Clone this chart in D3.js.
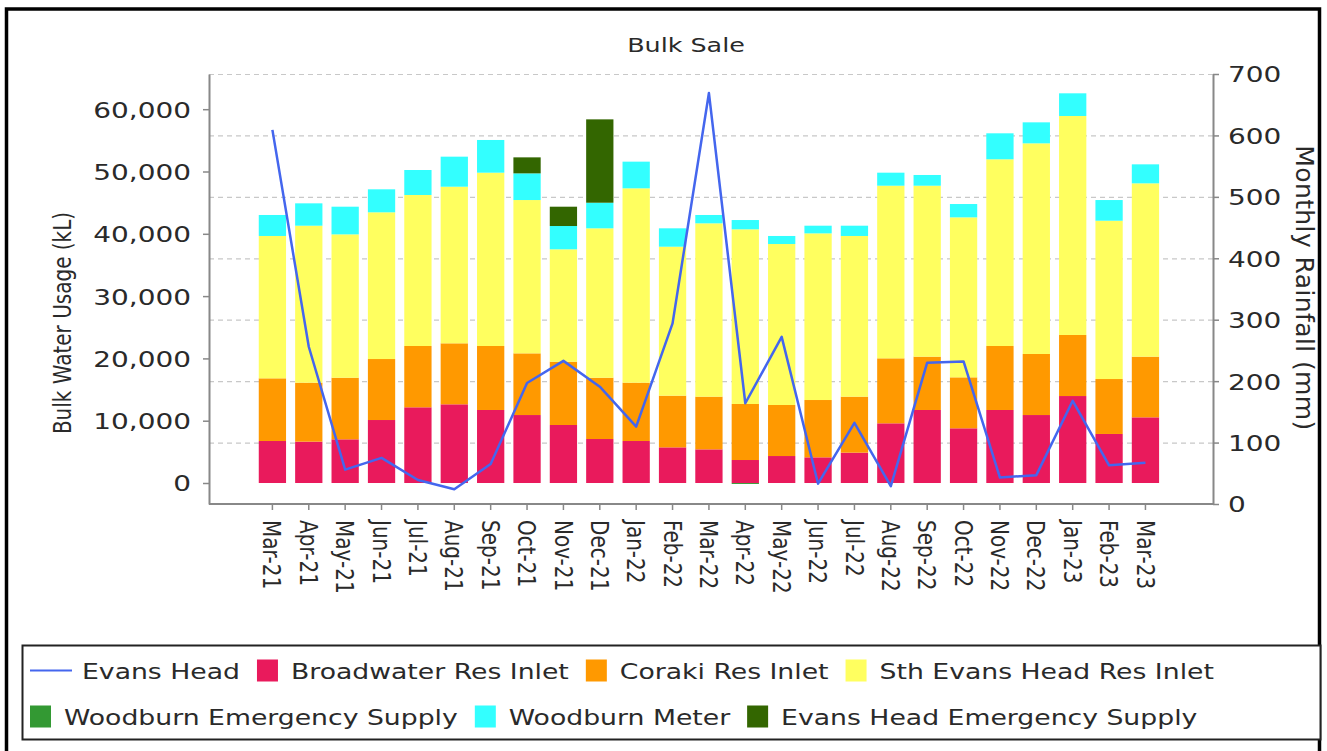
<!DOCTYPE html>
<html>
<head>
<meta charset="utf-8">
<script src="https://cdn.jsdelivr.net/npm/d3@7"></script>
<style>
  body { margin: 0; background: #fff; }
  svg text { font-family: "DejaVu Sans", Verdana, sans-serif; fill: #2a2a2a; }
</style>
</head>
<body>
<svg id="chart" width="1327" height="751"></svg>
<script>
// monthly values
var months = ["Mar-21", "Apr-21", "May-21", "Jun-21", "Jul-21", "Aug-21", "Sep-21", "Oct-21", "Nov-21", "Dec-21",
  "Jan-22", "Feb-22", "Mar-22", "Apr-22", "May-22", "Jun-22", "Jul-22", "Aug-22", "Sep-22", "Oct-22",
  "Nov-22", "Dec-22", "Jan-23", "Feb-23", "Mar-23"];

var broadwater = [6740, 6640, 7010, 10110, 12150, 12630, 11720, 10910, 9310, 7060, 6740, 5720, 5400, 3690, 4330,
  4120, 4870, 9580, 11720, 8780, 11720, 10910, 13960, 7870, 10540];
var coraki = [10060, 9460, 9890, 9790, 9840, 9790, 10270, 9900, 10160, 9840, 9360, 8300, 8460, 8990, 8190,
  9200, 8990, 10430, 8560, 8180, 10270, 9800, 9800, 8820, 9740];
var sthEvans = [22850, 25200, 23010, 23550, 24240, 25140, 27820, 24610, 18040, 23980, 31200, 23910, 27820, 28040, 25840,
  26750, 25790, 27710, 27440, 25680, 29970, 33810, 35150, 25410, 27820];
var woodburnEmergency = [0, 0, 0, 0, 0, 0, 0, 0, 0, 0, 0, 0, 0, -150, 0,
  0, 0, 0, 0, 0, 0, 0, 0, 0, 0];
var woodburnMeter = [3370, 3590, 4440, 3690, 4010, 4820, 5250, 4280, 3740, 4110, 4280, 2950, 1340, 1490, 1290,
  1230, 1650, 2090, 1720, 2140, 4170, 3370, 3640, 3320, 3050];
var evansEmergency = [0, 0, 0, 0, 0, 0, 0, 2570, 3100, 13380, 0, 0, 0, 0, 0,
  0, 0, 0, 0, 0, 0, 0, 0, 0, 0];
var rainfall = [609, 256, 56, 75, 39, 24, 65, 197, 233, 191, 126, 294, 669, 164, 272,
  33, 132, 29, 230, 232, 43, 47, 168, 63, 67];

var usageTicks = [0, 10000, 20000, 30000, 40000, 50000, 60000];
var rainTicks = [0, 100, 200, 300, 400, 500, 600, 700];

var series = [
  {key: "Broadwater Res Inlet", values: broadwater, color: "#e91a5c"},
  {key: "Coraki Res Inlet", values: coraki, color: "#ff9900"},
  {key: "Sth Evans Head Res Inlet", values: sthEvans, color: "#ffff5f"},
  {key: "Woodburn Emergency Supply", values: woodburnEmergency, color: "#339933"},
  {key: "Woodburn Meter", values: woodburnMeter, color: "#33ffff"},
  {key: "Evans Head Emergency Supply", values: evansEmergency, color: "#336600"}
];
var lineColor = "#4466ee";

var svg = d3.select("#chart");
var stretch = 1.27; // the source picture is widened horizontally
var plot = {left: 209, right: 1213, top: 74, bottom: 504};

var x = d3.scaleBand()
  .domain(months)
  .range([plot.left, plot.right])
  .paddingInner(0.25)
  .paddingOuter(1.425)
  .align(0.48);
var yL = d3.scaleLinear().domain([-3370, 65650]).range([plot.bottom, plot.top]);
var yR = d3.scaleLinear().domain([0, 700]).range([plot.bottom, plot.top]);

// outer frame
svg.append("rect")
  .attr("x", 6.5).attr("y", 9)
  .attr("width", 1313).attr("height", 770)
  .attr("fill", "none")
  .attr("stroke", "#000")
  .attr("stroke-width", 3.5);

// title
svg.append("text")
  .attr("transform", "translate(686,52) scale(" + stretch + ",1)")
  .attr("text-anchor", "middle")
  .attr("font-size", 20)
  .text("Bulk Sale");

// grid (follows right axis)
svg.append("g")
  .selectAll("line")
  .data(rainTicks.slice(1))
  .enter().append("line")
  .attr("x1", plot.left).attr("x2", plot.right)
  .attr("y1", function(d) { return yR(d) + 0.5; })
  .attr("y2", function(d) { return yR(d) + 0.5; })
  .attr("stroke", "#c8c8c8")
  .attr("stroke-width", 1.2)
  .attr("stroke-dasharray", "5,4");

// stacked bars
var table = months.map(function(m, i) {
  var row = {month: m};
  series.forEach(function(s) { row[s.key] = s.values[i]; });
  return row;
});
var stacked = d3.stack()
  .keys(series.map(function(s) { return s.key; }))
  .offset(d3.stackOffsetDiverging)(table);

svg.append("g")
  .selectAll("g")
  .data(stacked)
  .enter().append("g")
  .attr("fill", function(d, i) { return series[i].color; })
  .selectAll("rect")
  .data(function(d) { return d; })
  .enter().append("rect")
  .attr("x", function(d) { return x(d.data.month); })
  .attr("width", x.bandwidth())
  .attr("y", function(d) { return yL(Math.max(d[0], d[1])); })
  .attr("height", function(d) { return Math.abs(yL(d[0]) - yL(d[1])); });

// rainfall line
var line = d3.line()
  .x(function(d, i) { return x(months[i]) + x.bandwidth() / 2; })
  .y(function(d) { return yR(d); });

svg.append("path")
  .datum(rainfall)
  .attr("d", line)
  .attr("fill", "none")
  .attr("stroke", lineColor)
  .attr("stroke-width", 2.5)
  .attr("stroke-linejoin", "round");

// axes
function styleAxis(g) {
  g.attr("font-size", null).attr("font-family", null);
  g.select(".domain").attr("stroke", "#888").attr("stroke-width", 2);
  g.selectAll(".tick line").attr("stroke", "#888").attr("stroke-width", 1.5);
}

var leftAxis = svg.append("g")
  .attr("transform", "translate(" + plot.left + ",0)")
  .call(d3.axisLeft(yL).tickValues(usageTicks).tickFormat(d3.format(",")).tickSize(6).tickSizeOuter(0));
styleAxis(leftAxis);
leftAxis.selectAll(".tick text")
  .attr("x", null)
  .attr("dy", "0.36em")
  .attr("font-size", 22)
  .attr("transform", "translate(-18,0) scale(" + stretch + ",1)");

var rightAxis = svg.append("g")
  .attr("transform", "translate(" + plot.right + ",0)")
  .call(d3.axisRight(yR).tickValues(rainTicks).tickSize(6).tickSizeOuter(0));
styleAxis(rightAxis);
rightAxis.selectAll(".tick text")
  .attr("x", null)
  .attr("dy", "0.36em")
  .attr("font-size", 22)
  .attr("transform", "translate(15,0) scale(" + stretch + ",1)");

var bottomAxis = svg.append("g")
  .attr("transform", "translate(0," + plot.bottom + ")")
  .call(d3.axisBottom(x).tickSize(6).tickSizeOuter(0));
styleAxis(bottomAxis);
bottomAxis.select(".domain").attr("d", "M" + plot.left + ",0H" + plot.right);
bottomAxis.selectAll(".tick text")
  .attr("y", null)
  .attr("dy", "0.35em")
  .attr("font-size", 20)
  .attr("text-anchor", "start")
  .attr("transform", "translate(0,16) scale(" + stretch + ",1) rotate(90)");

// axis titles
svg.append("text")
  .attr("transform", "translate(71,323) scale(1.2,1) rotate(-90)")
  .attr("text-anchor", "middle")
  .attr("font-size", 20)
  .text("Bulk Water Usage (kL)");

svg.append("text")
  .attr("transform", "translate(1296,288) rotate(90)")
  .attr("text-anchor", "middle")
  .attr("font-size", 25)
  .attr("letter-spacing", 0.4)
  .text("Monthly Rainfall (mm)");

// legend
svg.append("rect")
  .attr("x", 22.5).attr("y", 645.5)
  .attr("width", 1298).attr("height", 94)
  .attr("fill", "#fff")
  .attr("stroke", "#222")
  .attr("stroke-width", 2);

var legendRows = [
  [{key: "Evans Head", color: lineColor, line: true}].concat(series.slice(0, 3)),
  series.slice(3)
];
var rowY = [670.5, 716.5];

legendRows.forEach(function(items, r) {
  var cx = 30;
  var cy = rowY[r];
  items.forEach(function(item) {
    if (item.line) {
      svg.append("line")
        .attr("x1", cx).attr("x2", cx + 42)
        .attr("y1", cy).attr("y2", cy)
        .attr("stroke", item.color)
        .attr("stroke-width", 2);
      cx += 52;
    } else {
      svg.append("rect")
        .attr("x", cx).attr("y", cy - 11)
        .attr("width", 21).attr("height", 22)
        .attr("fill", item.color);
      cx += 34;
    }
    var t = svg.append("text")
      .attr("transform", "translate(" + cx + "," + (cy + 8.5) + ") scale(" + stretch + ",1)")
      .attr("font-size", 21)
      .text(item.key);
    cx += t.node().getComputedTextLength() * stretch + 17;
  });
});
</script>
</body>
</html>
